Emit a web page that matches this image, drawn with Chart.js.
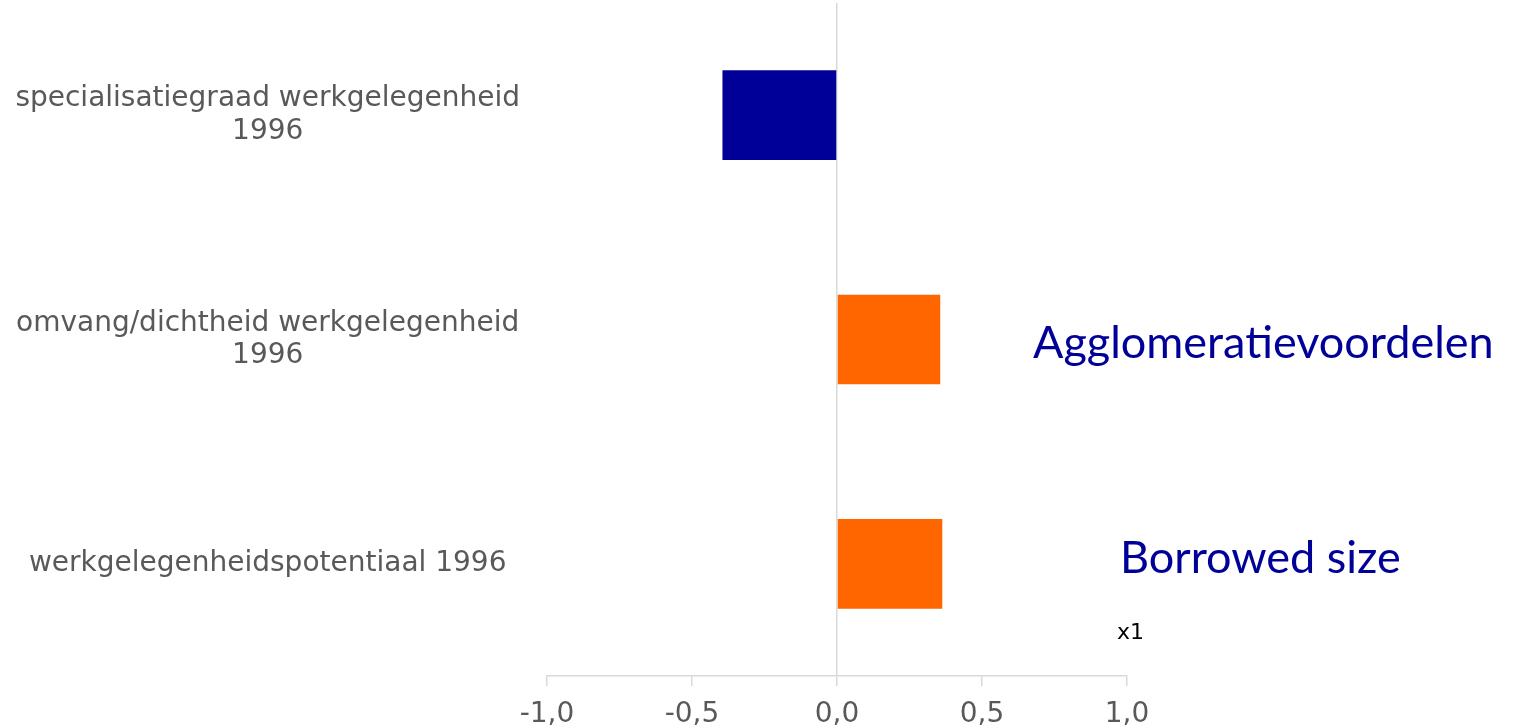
<!DOCTYPE html>
<html>
<head>
<meta charset="utf-8">
<script src="https://cdn.jsdelivr.net/npm/chart.js@4.4.0/dist/chart.umd.min.js"></script>
<style>
  body { margin: 0; background: #fff; }
</style>
</head>
<body>
<canvas id="barCanvas" width="1521" height="728"></canvas>
<script>
// categories (multi-line labels as arrays)
const categories = [
  ['specialisatiegraad werkgelegenheid', '1996'],
  ['omvang/dichtheid werkgelegenheid', '1996'],
  'werkgelegenheidspotentiaal 1996'
];
const values = [-0.395, 0.356, 0.363];
const barColors = ['#000099', '#ff6600', '#ff6600'];
const axisMin = -1;
const axisMax = 1;
const axisStep = 0.5;
const notes = ['Agglomeratievoordelen', 'Borrowed size', 'x1'];

// draws the annotation texts on the right side
const notesPlugin = {
  id: 'notes',
  afterDraw(chart) {
    const ctx = chart.ctx;
    ctx.save();
    ctx.textBaseline = 'alphabetic';
    ctx.textAlign = 'left';
    ctx.fillStyle = '#000099';
    ctx.font = '45px Lato';
    ctx.fillText(notes[0], 1033, 358);
    ctx.fillText(notes[1], 1120, 573);
    ctx.fillStyle = '#000';
    ctx.font = '22px "DejaVu Sans"';
    ctx.fillText(notes[2], 1117, 639);
    ctx.restore();
  }
};

const data = {
  labels: categories,
  datasets: [{
    data: values,
    backgroundColor: barColors,
    borderWidth: 0,
    barPercentage: 0.4,
    categoryPercentage: 1
  }]
};

const config = {
  type: 'bar',
  data: data,
  options: {
    indexAxis: 'y',
    responsive: false,
    animation: false,
    layout: { padding: { top: 3, right: 394 } },
    plugins: {
      legend: { display: false },
      tooltip: { enabled: false }
    },
    scales: {
      x: {
        min: axisMin,
        max: axisMax,
        ticks: {
          stepSize: axisStep,
          padding: 12,
          color: '#595959',
          font: { family: 'DejaVu Sans', size: 28 },
          callback: v => v.toFixed(1).replace('.', ',')
        },
        grid: {
          color: c => (c.tick && c.tick.value === 0) ? '#d9d9d9' : 'rgba(0,0,0,0)',
          tickColor: '#d9d9d9',
          tickLength: 10,
          lineWidth: 1.5
        },
        border: { display: true, color: '#d9d9d9', width: 1.5 },
        afterFit: s => { s.height = 52; }
      },
      y: {
        ticks: {
          crossAlign: 'center',
          padding: 27,
          color: '#595959',
          font: { family: 'DejaVu Sans', size: 28, lineHeight: 1.15 }
        },
        grid: { display: false, drawTicks: false },
        border: { display: false },
        afterFit: s => {
          s.width = 547;
          s.paddingTop = 0;
          s.paddingBottom = 0;
        }
      }
    }
  },
  plugins: [notesPlugin]
};

const chart = new Chart(document.getElementById('barCanvas'), config);
</script>
</body>
</html>
